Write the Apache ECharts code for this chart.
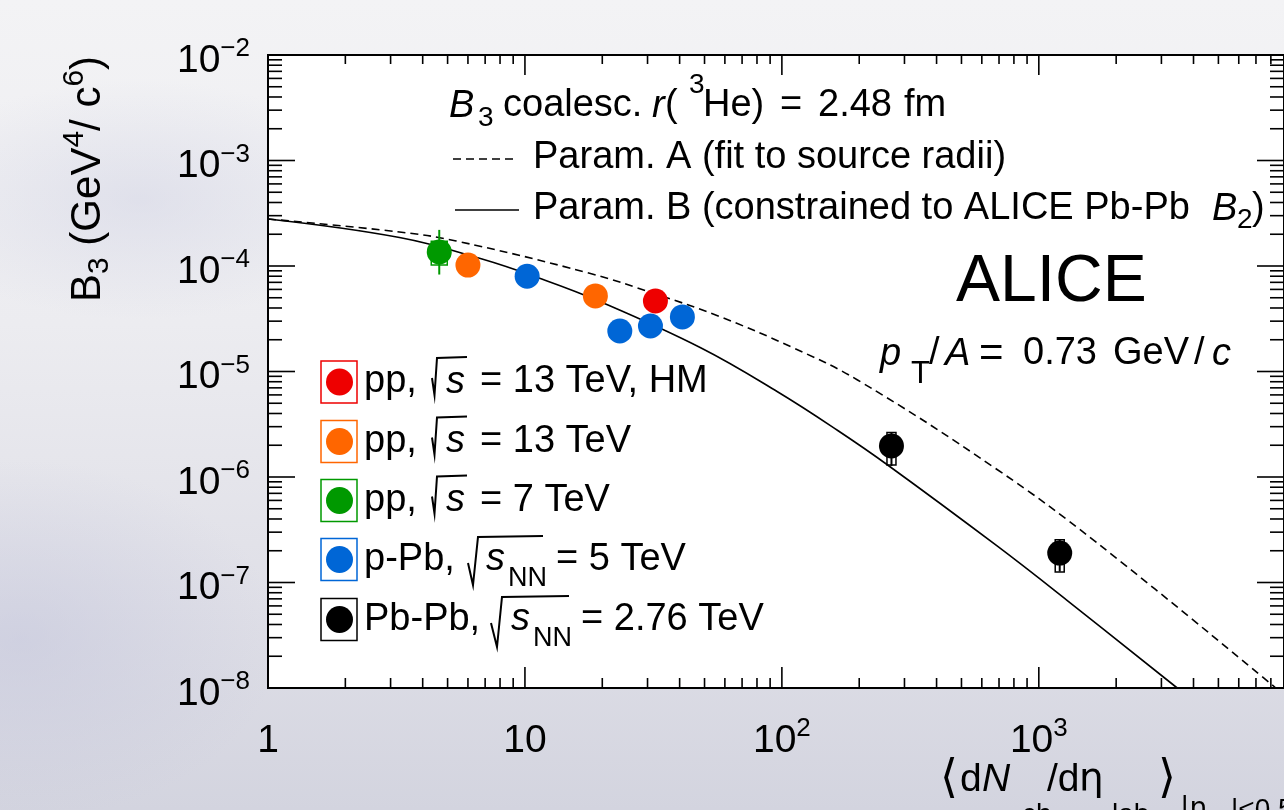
<!DOCTYPE html>
<html>
<head>
<meta charset="utf-8">
<script src="https://cdn.jsdelivr.net/npm/echarts@6/dist/echarts.min.js"></script>
<style>
html,body{margin:0;padding:0;}
body{
  width:1284px;height:810px;overflow:hidden;
  background:
    radial-gradient(ellipse 260px 180px at 20px 640px, rgba(196,198,220,0.55), rgba(196,198,220,0)),
    radial-gradient(ellipse 240px 120px at 140px 200px, rgba(205,207,226,0.45), rgba(205,207,226,0)),
    linear-gradient(180deg, #f3f3f5 0%, #ececf0 40%, #dfdfe7 75%, #d3d4df 100%);
}
#c{width:1284px;height:810px;}
</style>
</head>
<body>
<div id="c"></div>
<script>
// ---------------- data ----------------
const xMin = 1, xMax = 9000, yMin = 1e-8, yMax = 1e-2;

// coalescence curves
const paramA = [[1,2.79e-4],[3.25,2.10e-4],[5.40,1.726e-4],[17.7,8.58e-5],[32.2,5.43e-5],[56.5,3.36e-5],[110,1.689e-5],[197,8.31e-6],[688,1.178e-6],[1678,2.394e-7],[8365,1.0e-8]];
const paramB = [[1,2.79e-4],[3.25,1.862e-4],[6.81,1.165e-4],[11.33,7.70e-5],[19.36,4.66e-5],[48.5,1.67e-5],[96.5,6.39e-6],[165,2.76e-6],[258,1.30e-6],[688,2.22e-7],[1284,6.82e-8],[3457,1.0e-8]];

// measurements [dNch/deta, B3]
const ppHM = [[32.2, 4.66e-5]];
const pp13 = [[6.0, 1.02e-4],[18.8, 5.2e-5]];
const pp7 = [[4.64, 1.36e-4]];
const pPb5 = [[10.2, 8.0e-5],[23.4, 2.42e-5],[30.8, 2.70e-5],[41.0, 3.29e-5]];
const PbPb276 = [[267, 1.97e-6],[1206, 1.90e-7]];
// uncertainties [x, statLow, statHigh, systLow, systHigh]
const pp7Unc = [[4.64, 8.3e-5, 2.2e-4, 1.02e-4, 1.72e-4]];
const PbPbUnc = [[267, 1.27e-6, 2.67e-6, 1.30e-6, 2.64e-6],[1206, 1.27e-7, 2.53e-7, 1.26e-7, 2.54e-7]];

// legend text
const legendPrefix = ['pp,','pp,','pp,','p-Pb,','Pb-Pb,'];
const legendSub = ['','','','NN','NN'];
const legendSuffix = ['= 13 TeV, HM','= 13 TeV','= 7 TeV','= 5 TeV','= 2.76 TeV'];
const seriesColors = ['#ee0000','#ff6600','#009900','#0066d6','#000000'];

// ---------------- styles ----------------
const FONT = "'Liberation Sans', Arial, Helvetica, sans-serif";
const FONT_SYM = "'DejaVu Sans', 'Liberation Sans', sans-serif";
function rs(o){ return Object.assign({fontFamily:FONT, color:'#000', fill:'#000', fontSize:38}, o); }

const chart = echarts.init(document.getElementById('c'), null, {width:1284, height:810});

// tick marks (drawn through the axes' scales)
const tickItems = [];
for (let e = 0; e <= 3; e++) for (let m = 1; m <= 9; m++) {
  const v = m * Math.pow(10, e); if (v >= xMax) continue;
  const maj = m === 1 ? 1 : 0;
  tickItems.push([v, yMin, 0, maj], [v, yMax, 1, maj]);
}
for (let e = -8; e <= -2; e++) for (let m = 1; m <= 9; m++) {
  if (e === -2 && m > 1) continue;
  const v = m * Math.pow(10, e); const maj = m === 1 ? 1 : 0;
  tickItems.push([xMin, v, 2, maj], [xMax, v, 3, maj]);
}

function uncRender(color, halfW){
  return function(params, api){
    const x = api.value(0);
    const lo = api.coord([x, api.value(1)]), hi = api.coord([x, api.value(2)]);
    const slo = api.coord([x, api.value(3)]), shi = api.coord([x, api.value(4)]);
    return {type:'group', children:[
      {type:'rect', shape:{x:slo[0]-halfW, y:shi[1], width:2*halfW, height:slo[1]-shi[1]}, style:{fill:'none', stroke:color, lineWidth:1.5}},
      {type:'line', shape:{x1:lo[0], y1:lo[1], x2:hi[0], y2:hi[1]}, style:{stroke:color, lineWidth:2}}
    ]};
  };
}

// ---------------- graphic text ----------------
const G = [];
function txt(x, y, text, extra){
  G.push({type:'text', x:x, y:y, silent:true, z:100,
    style:Object.assign({text:text, fontSize:38, fontFamily:FONT, fill:'#000', align:'left', verticalAlign:'middle'}, extra||{})});
  return G[G.length-1];
}
const IT = {fontStyle:'italic'};
const SMALL = {fontSize:28};

// header line 1: B3 coalesc. r( 3He) = 2.48 fm
txt(449, 106, 'B', IT);
txt(478, 118, '3', SMALL);
txt(503, 106, 'coalesc.');
txt(652, 106, 'r', IT);
txt(665, 106, '(');
txt(689, 85, '3', SMALL);
txt(703, 106, 'He)');
txt(780, 106, '=');
txt(818, 106, '2.48');
txt(904, 106, 'fm');
// curve legend
txt(533, 158, 'Param. A (fit to source radii)');
txt(533, 209, 'Param. B (constrained to ALICE Pb-Pb');
txt(1212, 209, 'B', IT);
txt(1237, 220, '2', SMALL);
txt(1252, 209, ')');
G.push({type:'line', silent:true, z:100, shape:{x1:453,y1:159,x2:516,y2:159}, style:{stroke:'#000', lineWidth:1.5, lineDash:[8,5]}});
G.push({type:'line', silent:true, z:100, shape:{x1:455,y1:210,x2:519,y2:210}, style:{stroke:'#000', lineWidth:1.5}});
// ALICE label
txt(956, 283, 'ALICE', {fontSize:66});
txt(880, 354, 'p', IT);
txt(911, 374, 'T', {fontSize:31});
txt(929, 354, '/');
txt(945, 354, 'A', IT);
txt(979, 354, '=', {fontSize:42});
txt(1023, 354, '0.73');
txt(1113, 354, 'GeV');
txt(1194, 354, '/');
txt(1212, 354, 'c', IT);

// y-axis title (rotated)
const YR = {
  n: rs({fontSize:42, lineHeight:64}),
  sub: rs({fontSize:30, lineHeight:64, padding:[24,0,0,0]}),
  sup: rs({fontSize:30, lineHeight:64, padding:[0,0,26,0]})
};
const yTitle = txt(88, 302, '{n|B}{sub|3}{n| (GeV}{sup|4}{n|/ c}{sup|6}{n|)}', {rich:YR});
yTitle.rotation = Math.PI/2;

// x-axis title: <dN_ch/deta_lab>_{|eta_lab|<0.5}
txt(940, 780, '⟨', {fontSize:46, fontFamily:FONT_SYM});
txt(960, 780, 'd', {fontSize:39});
txt(982, 780, 'N', {fontSize:39, fontStyle:'italic'});
txt(1022, 815, 'ch', {fontSize:28});
txt(1047, 780, '/d', {fontSize:39});
txt(1079, 780, 'η', {fontSize:39, fontFamily:FONT_SYM});
txt(1112, 815, 'lab', {fontSize:28});
txt(1158, 780, '⟩', {fontSize:46, fontFamily:FONT_SYM});
txt(1180, 810, '|η', {fontSize:28, fontFamily:FONT_SYM});
txt(1203, 822, 'lab', {fontSize:19});
txt(1231, 810, '|<0.5', {fontSize:28});

// legend rows
const rowY = [382, 441.5, 500.5, 559.5, 619.5];
const rowLayout = [
  {rad:432, s:446, sub:0, rest:480, big:false},
  {rad:432, s:446, sub:0, rest:480, big:false},
  {rad:432, s:446, sub:0, rest:480, big:false},
  {rad:468, s:486, sub:508, rest:556, big:true},
  {rad:491, s:511, sub:533, rest:581, big:true}
];
for (let i = 0; i < 5; i++){
  const c = rowY[i], L = rowLayout[i], col = seriesColors[i];
  G.push({type:'rect', silent:true, z:100, shape:{x:321, y:c-21, width:36, height:42}, style:{fill:'#fff', stroke:col, lineWidth:1.5}});
  G.push({type:'circle', silent:true, z:101, shape:{cx:339.5, cy:c, r:13.5}, style:{fill:col}});
  txt(364, c, legendPrefix[i]);
  let pts;
  if (!L.big) pts = [[L.rad, c-4],[L.rad+2.5, c+13],[L.rad+5, c-24],[L.rad+35, c-25]];
  else if (i === 3) pts = [[L.rad, c+3.5],[L.rad+5, c+25.5],[L.rad+10, c-22.5],[L.rad+75, c-23.5]];
  else pts = [[L.rad, c+3.5],[L.rad+6, c+27.5],[L.rad+11, c-22.5],[L.rad+78, c-23.5]];
  G.push({type:'polyline', silent:true, z:100, shape:{points:pts}, style:{stroke:'#000', lineWidth:2, fill:'none'}});
  txt(L.s, c, 's', IT);
  if (legendSub[i]) txt(L.sub, c+19, legendSub[i], {fontSize:27});
  txt(L.rest, c, legendSuffix[i]);
}

// ---------------- option ----------------
const option = {
  animation:false,
  backgroundColor:'transparent',
  grid:{left:268, top:55, width:1021, height:633, show:true, backgroundColor:'#fff', borderColor:'#000', borderWidth:2},
  xAxis:{
    type:'log', logBase:10, min:xMin, max:xMax,
    axisLine:{show:false}, axisTick:{show:false}, splitLine:{show:false}, minorTick:{show:false},
    axisLabel:{
      margin:25, showMaxLabel:false,
      formatter:function(v){ const e = Math.round(Math.log10(v)); if (e === 0) return '{b|1}'; if (e === 1) return '{b|10}'; return '{b|10}{s|' + e + '}'; },
      rich:{ b:rs({fontSize:39, lineHeight:56}), s:rs({fontSize:26, lineHeight:56, padding:[0,0,24,0]}) }
    }
  },
  yAxis:{
    type:'log', logBase:10, min:yMin, max:yMax,
    axisLine:{show:false}, axisTick:{show:false}, splitLine:{show:false}, minorTick:{show:false},
    axisLabel:{
      margin:18,
      formatter:function(v){ const e = Math.round(Math.log10(v)); return '{b|10}{s|\u2212' + (-e) + '}'; },
      rich:{ b:rs({fontSize:39, lineHeight:60, padding:[12,0,0,0]}), s:rs({fontSize:26, lineHeight:60, padding:[0,0,12,0]}) }
    }
  },
  series:[
    {type:'custom', name:'ticks', data:tickItems, encode:{x:0, y:1}, z:6, silent:true,
      renderItem:function(params, api){
        const p = api.coord([api.value(0), api.value(1)]);
        const o = api.value(2), maj = api.value(3);
        let dx = 0, dy = 0;
        if (o === 0) dy = -(maj ? 21 : 10);
        else if (o === 1) dy = (maj ? 20 : 9);
        else if (o === 2) dx = (maj ? 27 : 14);
        else dx = -(maj ? 27 : 14);
        return {type:'line', shape:{x1:p[0], y1:p[1], x2:p[0]+dx, y2:p[1]+dy}, style:{stroke:'#000', lineWidth:1.6}};
      }},
    {type:'line', name:'Param. A', data:paramA, showSymbol:false, smooth:0.4, z:2, silent:true,
      lineStyle:{color:'#000', width:1.6, type:[8,5]}},
    {type:'line', name:'Param. B', data:paramB, showSymbol:false, smooth:0.4, z:2, silent:true,
      lineStyle:{color:'#000', width:1.6}},
    {type:'custom', name:'pp7 unc', data:pp7Unc, encode:{x:0, y:1}, z:3, silent:true, renderItem:uncRender(seriesColors[2], 8)},
    {type:'custom', name:'PbPb unc', data:PbPbUnc, encode:{x:0, y:1}, z:3, silent:true, renderItem:uncRender(seriesColors[4], 4.5)},
    {type:'scatter', name:'pp 13 TeV HM', data:ppHM, symbolSize:25, z:4, itemStyle:{color:seriesColors[0], opacity:1}},
    {type:'scatter', name:'pp 13 TeV', data:pp13, symbolSize:25, z:4, itemStyle:{color:seriesColors[1], opacity:1}},
    {type:'scatter', name:'pp 7 TeV', data:pp7, symbolSize:25, z:4, itemStyle:{color:seriesColors[2], opacity:1}},
    {type:'scatter', name:'p-Pb 5 TeV', data:pPb5, symbolSize:25, z:4, itemStyle:{color:seriesColors[3], opacity:1}},
    {type:'scatter', name:'Pb-Pb 2.76 TeV', data:PbPb276, symbolSize:25, z:4, itemStyle:{color:seriesColors[4], opacity:1}}
  ],
  graphic:{elements:G}
};
chart.setOption(option);
</script>
</body>
</html>
